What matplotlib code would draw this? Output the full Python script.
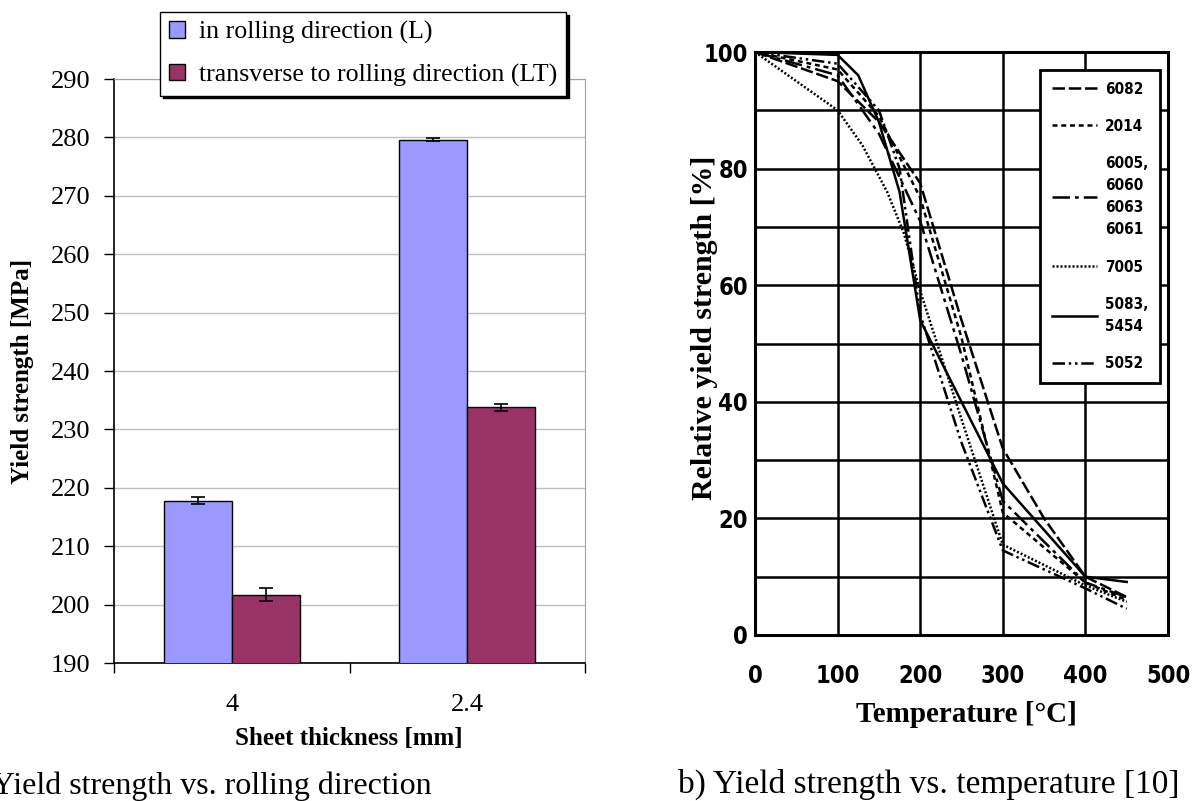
import matplotlib
matplotlib.use("Agg")
import matplotlib.pyplot as plt
import matplotlib.font_manager as fm
import numpy as np

# ---- left panel: yield strength vs rolling direction ----
thickness = ["4", "2.4"]
ys_long = [217.8, 279.6]
ys_long_err = [0.6, 0.3]
ys_trans = [201.7, 233.8]
ys_trans_err = [1.1, 0.6]

# ---- right panel: relative yield strength vs temperature ----
t_6082 = [0, 100, 150, 200, 250, 300, 350, 400, 450]
r_6082 = [100, 95, 88, 77.5, 54, 32, 20, 10, 6.5]
t_2014 = [0, 100, 150, 200, 250, 300, 400, 450]
r_2014 = [100, 97, 89, 75, 51, 21, 9, 6]
t_6005 = [0, 100, 150, 200, 250, 300, 400, 450]
r_6005 = [100, 96, 86, 71, 48, 23, 9, 6.5]
t_7005 = [0, 100, 130, 160, 180, 200, 225, 250, 300, 400, 450]
r_7005 = [100, 90, 84, 76, 69, 59, 48, 37, 15.5, 8.5, 5.7]
t_5083 = [0, 100, 125, 150, 175, 200, 250, 300, 350, 400, 450]
r_5083 = [100, 99.5, 96, 88, 76, 54, 40, 26, 18, 10, 9.1]
t_5052 = [0, 100, 150, 175, 200, 250, 300, 400, 450]
r_5052 = [100, 98, 90, 80, 55, 33, 14.5, 8, 4.5]

serif = ["Liberation Serif", "DejaVu Serif"]


def _is_bold(w):
    if isinstance(w, str):
        return "bold" in w.lower()
    return w >= 600


# look for a condensed sans face for the scanned-looking right panel
cands = []
for f in fm.fontManager.ttflist:
    nm = f.name
    if ("Narrow" in nm or "Condensed" in nm or f.stretch in ("condensed", "semi-condensed")) \
            and "Mono" not in nm and "Serif" not in nm and f.style == "normal":
        cands.append(f)
cands.sort(key=lambda f: (not _is_bold(f.weight), f.fname))
cond_file = cands[0].fname if cands else None

if cond_file:
    tick_fp = fm.FontProperties(fname=cond_file, size=17)
    leg_fp = fm.FontProperties(fname=cond_file, size=11)
else:
    tick_fp = fm.FontProperties(family=["Liberation Sans", "DejaVu Sans"], size=15)
    leg_fp = fm.FontProperties(family=["Liberation Sans", "DejaVu Sans"], size=10)

W, H = 1196, 801
fig = plt.figure(figsize=(W / 100, H / 100), dpi=100)


def fx(px):
    return px / W


def fy(py):
    return 1 - py / H


# left axes
ax1 = fig.add_axes([fx(114), fy(663), fx(585 - 114), (663 - 79) / H])
x = np.arange(len(thickness))
bw = 0.289
ax1.bar(x - bw / 2, ys_long, bw, color="#9999FF", edgecolor="black", linewidth=1,
        label="in rolling direction (L)", zorder=3)
ax1.bar(x + bw / 2, ys_trans, bw, color="#993366", edgecolor="black", linewidth=1,
        label="transverse to rolling direction (LT)", zorder=3)
ax1.errorbar(x - bw / 2, ys_long, yerr=ys_long_err, fmt="none", ecolor="black",
             elinewidth=1.2, capsize=5, capthick=1.2, zorder=4)
ax1.errorbar(x + bw / 2, ys_trans, yerr=ys_trans_err, fmt="none", ecolor="black",
             elinewidth=1.2, capsize=5, capthick=1.2, zorder=4)
ax1.set_ylim(190, 290)
ax1.set_xlim(-0.5, 1.5)
ax1.set_yticks(np.arange(190, 291, 10))
ax1.yaxis.grid(True, color="#c0c0c0", linewidth=1)
ax1.set_axisbelow(True)
ax1.set_xticks([-0.5, 0.5, 1.5])
ax1.set_xticklabels([])
ax1.set_xticks(x, minor=True)
ax1.set_xticklabels(thickness, minor=True, family=serif, fontsize=19)
ax1.tick_params(axis="x", which="major", length=7, width=1, direction="out")
ax1.tick_params(axis="x", which="minor", length=0, pad=22)
ax1.tick_params(axis="y", length=7, width=1, pad=10)
for lab in ax1.get_yticklabels():
    lab.set_family(serif)
    lab.set_fontsize(19)
ax1.spines["top"].set_color("#a0a0a0")
ax1.spines["right"].set_color("#a0a0a0")
ax1.spines["left"].set_linewidth(1.2)
ax1.spines["bottom"].set_linewidth(1.2)

fig.text(fx(349), fy(738), "Sheet thickness [mm]", family=serif, fontweight="bold",
         fontsize=18, ha="center", va="center")
fig.text(fx(22), fy(371), "Yield strength [MPa]", family=serif, fontweight="bold",
         fontsize=18, ha="center", va="center", rotation=90)

leg = fig.legend(loc="upper left", bbox_to_anchor=(fx(160), fy(12)),
                 bbox_transform=fig.transFigure, prop={"family": serif, "size": 18.6},
                 frameon=True, fancybox=False, edgecolor="black", framealpha=1,
                 borderaxespad=0, borderpad=0.35, handlelength=0.6, handleheight=0.6,
                 handletextpad=0.55, labelspacing=0.75,
                 shadow={"color": "black", "alpha": 1})
leg.get_frame().set_linewidth(1)

# right axes
ax2 = fig.add_axes([fx(755), fy(635), fx(1168 - 755), (635 - 52) / H])
lw = 1.8
ax2.plot(t_6082, r_6082, color="black", lw=lw, ls=(0, (5, 1.5)), label="6082")
ax2.plot(t_2014, r_2014, color="black", lw=lw, ls=(0, (2, 1.5)), label="2014")
ax2.plot(t_6005, r_6005, color="black", lw=lw, ls=(0, (7, 2, 1.5, 2)),
         label="6005,\n6060\n6063\n6061")
ax2.plot(t_7005, r_7005, color="black", lw=lw, ls=(0, (0.8, 0.8)), label="7005")
ax2.plot(t_5083, r_5083, color="black", lw=lw, ls="-", label="5083,\n5454")
ax2.plot(t_5052, r_5052, color="black", lw=lw, ls=(0, (5, 1.5, 1, 1.5, 1, 1.5)),
         label="5052")
ax2.set_xlim(0, 500)
ax2.set_ylim(0, 100)
ax2.set_xticks(np.arange(0, 501, 100))
ax2.set_yticks(np.arange(0, 101, 20))
ax2.set_yticks(np.arange(0, 101, 10), minor=True)
ax2.grid(True, which="major", color="black", linewidth=1.8)
ax2.yaxis.grid(True, which="minor", color="black", linewidth=1.8)
ax2.tick_params(which="both", length=0)
ax2.tick_params(axis="x", pad=21)
ax2.tick_params(axis="y", pad=5)
for lab in ax2.get_xticklabels() + ax2.get_yticklabels():
    lab.set_fontproperties(tick_fp)
for s in ax2.spines.values():
    s.set_linewidth(2.2)

leg2 = ax2.legend(loc="upper right", bbox_to_anchor=(0.9805, 0.969),
                  prop=leg_fp, frameon=True, fancybox=False,
                  edgecolor="black", framealpha=1, borderaxespad=0, borderpad=0.75,
                  handlelength=3.0, handletextpad=0.5, labelspacing=1.45)
leg2.get_frame().set_linewidth(2)
for t in leg2.get_texts():
    t.set_linespacing(1.6)

fig.text(fx(966), fy(714), "Temperature [°C]", family=serif, fontweight="bold",
         fontsize=21, ha="center", va="center")
fig.text(fx(705), fy(328), "Relative yield strength [%]", family=serif,
         fontweight="bold", fontsize=21.5, ha="center", va="center", rotation=90)

# captions (the left one is clipped at the page edge, as in the source)
fig.text(fx(432), fy(786), "a) Yield strength vs. rolling direction", family=serif,
         fontsize=23, ha="right", va="center")
fig.text(fx(1180), fy(784), "b) Yield strength vs. temperature [10]", family=serif,
         fontsize=24, ha="right", va="center")

fig.savefig("out.png", dpi=100)
